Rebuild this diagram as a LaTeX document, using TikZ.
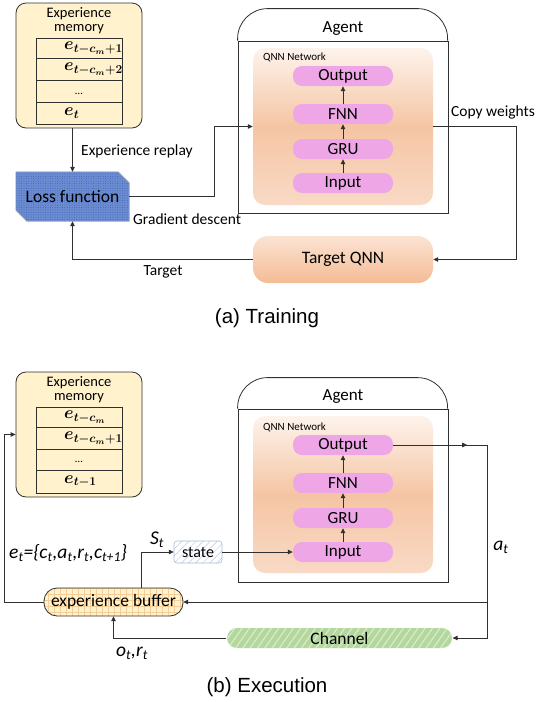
\documentclass[tikz,border=0pt]{standalone}
\usepackage{fontspec}
\setmainfont{Carlito}
\newfontfamily\capfont{Liberation Sans}
\usetikzlibrary{arrows.meta,patterns.meta,backgrounds,calc}
\definecolor{memfill}{HTML}{FFF2CC}
\definecolor{edge}{HTML}{303030}
\definecolor{pinkL}{HTML}{EEA6E6}
\definecolor{qtop}{HTML}{FDF3EC}
\definecolor{qmid}{HTML}{F5C5A3}
\definecolor{qbot}{HTML}{F9DAC6}
\definecolor{ttop}{HTML}{FBE3D3}
\definecolor{tbot}{HTML}{F4BC95}
\definecolor{lossfill}{RGB}{108,140,210}
\definecolor{lossdot}{RGB}{62,98,180}
\definecolor{lossedge}{RGB}{150,160,185}
\definecolor{gridc}{RGB}{245,205,150}
\definecolor{statehatch}{RGB}{185,200,232}
\definecolor{chanfill}{RGB}{180,215,158}
\definecolor{chanhatch}{RGB}{215,236,200}
\tikzset{
  arr/.style={draw=edge, line width=0.8pt, -{Triangle[length=5pt,width=4.5pt]}},
  ln/.style={draw=edge, line width=0.8pt},
  memstyle/.style={draw=edge, line width=0.8pt, fill=memfill, rounded corners=10pt, minimum width=126pt, inner sep=0pt},
  memtitle/.style={align=center, font=\fontsize{14.5}{14}\selectfont, inner sep=0pt},
  cellstyle/.style={draw=edge, line width=0.8pt, minimum width=86pt, inner sep=0pt},
  entry/.style={anchor=west, inner sep=0pt, font=\fontsize{16.5}{16.5}\selectfont\boldmath},
  agentstyle/.style={draw=edge, line width=0.8pt, minimum width=210pt, inner sep=0pt},
  agenttitle/.style={font=\fontsize{17}{17}\selectfont, inner sep=0pt},
  qnnstyle/.style={rounded corners=12pt, top color=qtop, bottom color=qbot, middle color=qmid, minimum width=180pt, inner sep=0pt},
  qnnlabel/.style={anchor=west, font=\fontsize{11}{11}\selectfont, inner sep=0pt},
  layerstyle/.style={fill=pinkL, rounded corners=9pt, minimum width=100pt, minimum height=20pt, inner sep=0pt, font=\fontsize{17}{17}\selectfont},
  lbl/.style={inner sep=0pt, font=\fontsize{15.5}{15.5}\selectfont},
  ilbl/.style={inner sep=0pt, font=\fontsize{19.5}{19.5}\selectfont\itshape},
  capstyle/.style={inner sep=0pt, font=\fontsize{20.5}{20.5}\selectfont\capfont},
  dotsstyle/.style={inner sep=0pt, font=\fontsize{11}{11}\selectfont},
}
\begin{document}
\begin{tikzpicture}[x=1pt,y=-1pt]
\useasboundingbox (0,0) rectangle (553,702);

% ================= (a) Training =================
\node[memstyle, minimum height=125pt] (memA) at (79,65.5) {};
\node[memtitle] (memAt) at (79,20.5) {Experience\\memory};
\node[cellstyle, minimum height=20pt] (a1) at (79,48) {};
\node[cellstyle, minimum height=22pt] (a2) at (79,69) {};
\node[cellstyle, minimum height=22pt] (a3) at (79,91) {};
\node[cellstyle, minimum height=22pt] (a4) at (79,113) {};
\node[entry] (a1t) at (64,48) {$e_{t-c_m+1}$};
\node[entry] (a2t) at (64,69) {$e_{t-c_m+2}$};
\node[dotsstyle] (a3t) at (79,94) {\ldots};
\node[entry] (a4t) at (64,113) {$e_t$};

\node[minimum width=113pt, minimum height=49pt, inner sep=0pt, font=\fontsize{17.5}{17.5}\selectfont] (loss) at (72.5,196.5) {Loss function};
\begin{scope}[on background layer]
\path[preaction={fill=lossfill}, pattern={Dots[distance=2.4pt,radius=0.5pt]}, pattern color=lossdot, draw=lossedge, line width=0.6pt]
  (loss.north west) -- ($(loss.north east)+(-11,0)$) -- ($(loss.north east)+(0,11)$)
  -- (loss.south east) -- ($(loss.south west)+(11,0)$) -- ($(loss.south west)+(0,-11)$) -- cycle;
\end{scope}

\node[agentstyle, minimum height=172pt] (agA) at (343,127) {};
\draw[ln, rounded corners=30pt] (agA.north west) -- ++(0,-32) -- ++(210,0) -- ++(0,32);
\node[agenttitle] (agAt) at (343,29) {Agent};
\node[qnnstyle, minimum height=157pt] (qnnA) at (343,126.5) {};
\node[qnnlabel] (qnnAt) at (263,57) {QNN Network};
\node[layerstyle] (outA) at (343,76) {Output};
\node[layerstyle] (fnnA) at (343,114) {FNN};
\node[layerstyle] (gruA) at (343,149) {GRU};
\node[layerstyle] (inA) at (343,183) {Input};
\draw[arr] (inA) -- (gruA);
\draw[arr] (gruA) -- (fnnA);
\draw[arr] (fnnA) -- (outA);

\node[rounded corners=15pt, top color=ttop, bottom color=tbot, minimum width=180pt, minimum height=47pt, inner sep=0pt, font=\fontsize{17.5}{17.5}\selectfont] (tqnn) at (343,259.5) {Target QNN};

\draw[arr] (memA.south -| loss.north) -- (loss.north);
\draw[arr] (loss.east) -- ++(85,0) |- (qnnA.west);
\draw[arr] (qnnA.east) -- ++(83,0) |- (tqnn.east);
\draw[arr] (tqnn.west) -| (loss.south);

\node[lbl, anchor=west] (l1) at (81,151) {Experience replay};
\node[lbl, anchor=west] (l2) at (133,219) {Gradient descent};
\node[lbl, anchor=west] (l3) at (451,112) {Copy weights};
\node[lbl] (l4) at (163,272) {Target};
\node[capstyle] (capA) at (267,318) {(a) Training};

% ================= (b) Execution =================
\node[memstyle, minimum height=125pt] (memB) at (79,434.5) {};
\node[memtitle] (memBt) at (79,389.5) {Experience\\memory};
\node[cellstyle, minimum height=20pt] (b1) at (79,417) {};
\node[cellstyle, minimum height=22pt] (b2) at (79,438) {};
\node[cellstyle, minimum height=21pt] (b3) at (79,459.5) {};
\node[cellstyle, minimum height=23pt] (b4) at (79,481.5) {};
\node[entry] (b1t) at (64,417) {$e_{t-c_m}$};
\node[entry] (b2t) at (64,438) {$e_{t-c_m+1}$};
\node[dotsstyle] (b3t) at (79,462) {\ldots};
\node[entry] (b4t) at (64,481.5) {$e_{t-1}$};

\node[agentstyle, minimum height=173pt] (agB) at (343,495.5) {};
\draw[ln, rounded corners=30pt] (agB.north west) -- ++(0,-31) -- ++(210,0) -- ++(0,31);
\node[agenttitle] (agBt) at (343,397) {Agent};
\node[qnnstyle, minimum height=157pt] (qnnB) at (343,494.5) {};
\node[qnnlabel] (qnnBt) at (263,427) {QNN Network};
\node[layerstyle] (outB) at (343,445) {Output};
\node[layerstyle] (fnnB) at (343,483) {FNN};
\node[layerstyle] (gruB) at (343,518) {GRU};
\node[layerstyle] (inB) at (343,552) {Input};
\draw[arr] (inB) -- (gruB);
\draw[arr] (gruB) -- (fnnB);
\draw[arr] (fnnB) -- (outB);

\node[draw=edge, line width=0.8pt, rounded corners=13pt, preaction={fill=memfill}, pattern={Hatch[angle=0,distance=6pt,line width=0.4pt]}, pattern color=gridc, minimum width=139pt, minimum height=28pt, inner sep=0pt, font=\fontsize{17.5}{17.5}\selectfont] (buf) at (113.5,602) {experience buffer};
\node[draw=statehatch!80!gray, line width=0.6pt, rounded corners=3pt, preaction={fill=white}, pattern={Lines[angle=45,distance=5pt,line width=0.5pt]}, pattern color=statehatch, minimum width=48pt, minimum height=22pt, inner sep=0pt, font=\fontsize{16}{16}\selectfont] (state) at (198,552) {state};
\node[rounded corners=10pt, preaction={fill=chanfill}, pattern={Lines[angle=55,distance=6pt,line width=1.2pt]}, pattern color=chanhatch, minimum width=225pt, minimum height=20pt, inner sep=0pt, font=\fontsize{17.5}{17.5}\selectfont] (chan) at (339.5,638) {Channel};

\draw[arr] (outB.east) -- ++(74,0);
\draw[arr] (outB.east) -- ++(94,0) coordinate (j1) |- (chan.east);
\draw[arr] (j1 |- buf.east) -- (buf.east);
\draw[arr] (chan.west) -| (buf.south);
\draw[arr] ([xshift=27.5pt]buf.north) |- (state.west);
\draw[arr] (state.east) -- (inB.west);
\draw[arr] (buf.west) -- ++(-39,0) |- (memB.west);

\node[ilbl, anchor=west] (et) at (9,553) {e\textsubscript{t}=\{c\textsubscript{t},a\textsubscript{t},r\textsubscript{t},c\textsubscript{t+1}\}};
\node[ilbl] (st) at (157,540) {S\textsubscript{t}};
\node[ilbl] (at) at (501,547) {a\textsubscript{t}};
\node[ilbl] (ort) at (132,653) {o\textsubscript{t},r\textsubscript{t}};
\node[capstyle] (capB) at (267,687) {(b) Execution};
\end{tikzpicture}
\end{document}
